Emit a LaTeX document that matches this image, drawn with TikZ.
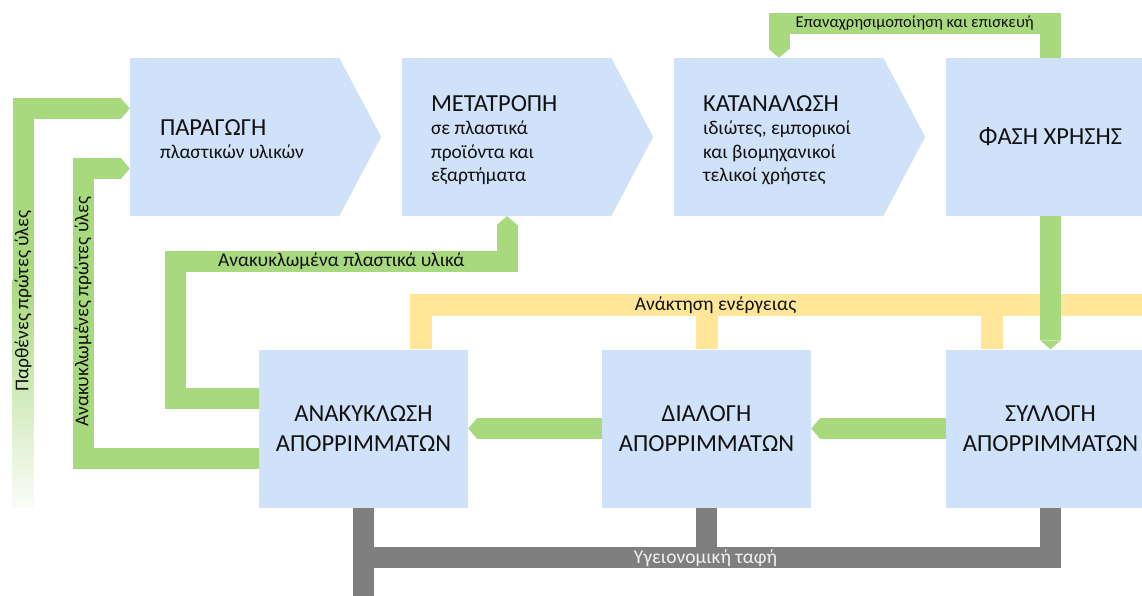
\documentclass[tikz,border=0pt]{standalone}
\usepackage{fontspec}
\setmainfont{Carlito}
\usepackage{xcolor}
\usepackage{tikz}
\usetikzlibrary{arrows.meta,calc,positioning}

\definecolor{boxblue}{HTML}{CFE2F9}
\definecolor{flowgreen}{HTML}{A9D97F}
\definecolor{energyyellow}{HTML}{FFE699}
\definecolor{landgray}{HTML}{7F7F7F}
\definecolor{txtdark}{HTML}{111111}

\newcommand{\stagetitle}[1]{{\fontsize{24.5}{26}\selectfont #1}}

\begin{document}
\begin{tikzpicture}[x=1pt, y=-1pt,
  stage/.style={fill=boxblue, minimum width=210pt, minimum height=158pt, inner sep=0pt},
  phase/.style={fill=boxblue, minimum width=209pt, minimum height=158pt, inner sep=0pt,
    align=center, font=\fontsize{24.5}{29.5}\selectfont, text=txtdark},
  stagetext/.style={anchor=west, align=left, inner sep=0pt,
    font=\fontsize{19.5}{23.5}\selectfont, text=txtdark},
  greenflow/.style={draw=flowgreen, line width=21pt,
    -{Triangle[length=9pt, width=21pt, line width=0pt]}},
  energyline/.style={draw=energyyellow, line width=22pt},
  landline/.style={draw=landgray, line width=21pt},
  flowlabel/.style={inner sep=0pt, font=\fontsize{19.5}{21}\selectfont, text=txtdark},
]
\useasboundingbox (0,0) rectangle (1142,596);
\clip (0,0) rectangle (1142,596);

% Box 1: production
\node[stage] (prod) at (235,137) {};
\fill[boxblue] ([xshift=-1pt]prod.north east) -- ++(42,79) -- ([xshift=-1pt]prod.south east) -- cycle;
\node[stagetext] (prodtxt) at ($(prod.west)+(30,2)$) {\stagetitle{ΠΑΡΑΓΩΓΗ}\\πλαστικών υλικών};
% Box 2: conversion
\node[stage] (conv) at (507,137) {};
\fill[boxblue] ([xshift=-1pt]conv.north east) -- ++(42,79) -- ([xshift=-1pt]conv.south east) -- cycle;
\node[stagetext] (convtxt) at ($(conv.west)+(29,3)$) {\stagetitle{ΜΕΤΑΤΡΟΠΗ}\\σε πλαστικά\\προϊόντα και\\εξαρτήματα};
% Box 3: consumption
\node[stage] (cons) at (779,137) {};
\fill[boxblue] ([xshift=-1pt]cons.north east) -- ++(42,79) -- ([xshift=-1pt]cons.south east) -- cycle;
\node[stagetext] (constxt) at ($(cons.west)+(29,3)$) {\stagetitle{ΚΑΤΑΝΑΛΩΣΗ}\\ιδιώτες, εμπορικοί\\και βιομηχανικοί\\τελικοί χρήστες};
% Box 4: use phase
\node[phase] (use) at (1050.5,137) {ΦΑΣΗ ΧΡΗΣΗΣ};

% Bottom row: waste boxes
\node[phase] (anak) at (363.5,428.5) {ΑΝΑΚΥΚΛΩΣΗ\\ΑΠΟΡΡΙΜΜΑΤΩΝ};
\node[phase] (sort) at (706.5,428.5) {ΔΙΑΛΟΓΗ\\ΑΠΟΡΡΙΜΜΑΤΩΝ};
\node[phase] (coll) at (1050.5,428.5) {ΣΥΛΛΟΓΗ\\ΑΠΟΡΡΙΜΜΑΤΩΝ};

% Energy recovery (yellow)
\coordinate (en) at (1160,305);
\coordinate (enc) at ($(coll.north)+(-58.5,0)$);
\draw[energyline] ($(anak.north)+(57,0)$) |- (en);
\draw[energyline] (sort.north) -- (sort.north |- en);
\draw[energyline] (enc) -- (enc |- en);
\node[flowlabel] (entxt) at ($(sort.north |- en)+(9,0)$) {Ανάκτηση ενέργειας};

% Landfill (gray)
\coordinate (lf) at ($(anak.south)+(0,50)$);
\coordinate (lfend) at ($(anak.south)+(0,100)$);
\draw[landline] (coll.south) |- (lf);
\draw[landline] (anak.south) -- (lfend);
\draw[landline] (sort.south) -- (sort.south |- lf);
\node[flowlabel, text=white!95!black] (lftxt) at ($(sort.south |- lf)+(-1,0)$) {Υγειονομική ταφή};

% Virgin raw materials
\coordinate (vfade) at (23,281);
\coordinate (vrm) at (23,108.5);
\shade[top color=flowgreen, bottom color=flowgreen!6] (12.5,280) rectangle (33.5,507);
\draw[greenflow] (vfade) -- (vrm) -- (vrm -| prod.west);
\node[flowlabel, rotate=90] (vrmtxt) at (23,301) {Παρθένες πρώτες ύλες};

% Recycled raw materials
\coordinate (rrm) at (83,168.5);
\draw[greenflow] ($(anak.west)+(0,30)$) -| (rrm) -- (rrm -| prod.west);
\node[flowlabel, rotate=90] (rrmtxt) at (83,312) {Ανακυκλωμένες πρώτες ύλες};

% Recycled plastics back to conversion
\coordinate (rpl) at (175.5,261.5);
\draw[greenflow] ($(anak.west)+(0,-30)$) -| (rpl) -| (conv.south);
\node[flowlabel] (rpltxt) at ($(rpl)!0.5!(rpl -| conv.south)$) {Ανακυκλωμένα πλαστικά υλικά};

% Reuse and repair
\coordinate (rr) at ($(use.north)+(0,-34.5)$);
\draw[greenflow] (use.north) -- (rr) -| (cons.north);
\node[flowlabel, font=\fontsize{16.5}{18}\selectfont] (rrtxt) at ($(rr)!0.5!(rr -| cons.north)$) {Επαναχρησιμοποίηση και επισκευή};

% Waste stream
\draw[greenflow] (use.south) -- (coll.north);
\draw[greenflow] (coll.west) -- (sort.east);
\draw[greenflow] (sort.west) -- (anak.east);
\end{tikzpicture}
\end{document}
